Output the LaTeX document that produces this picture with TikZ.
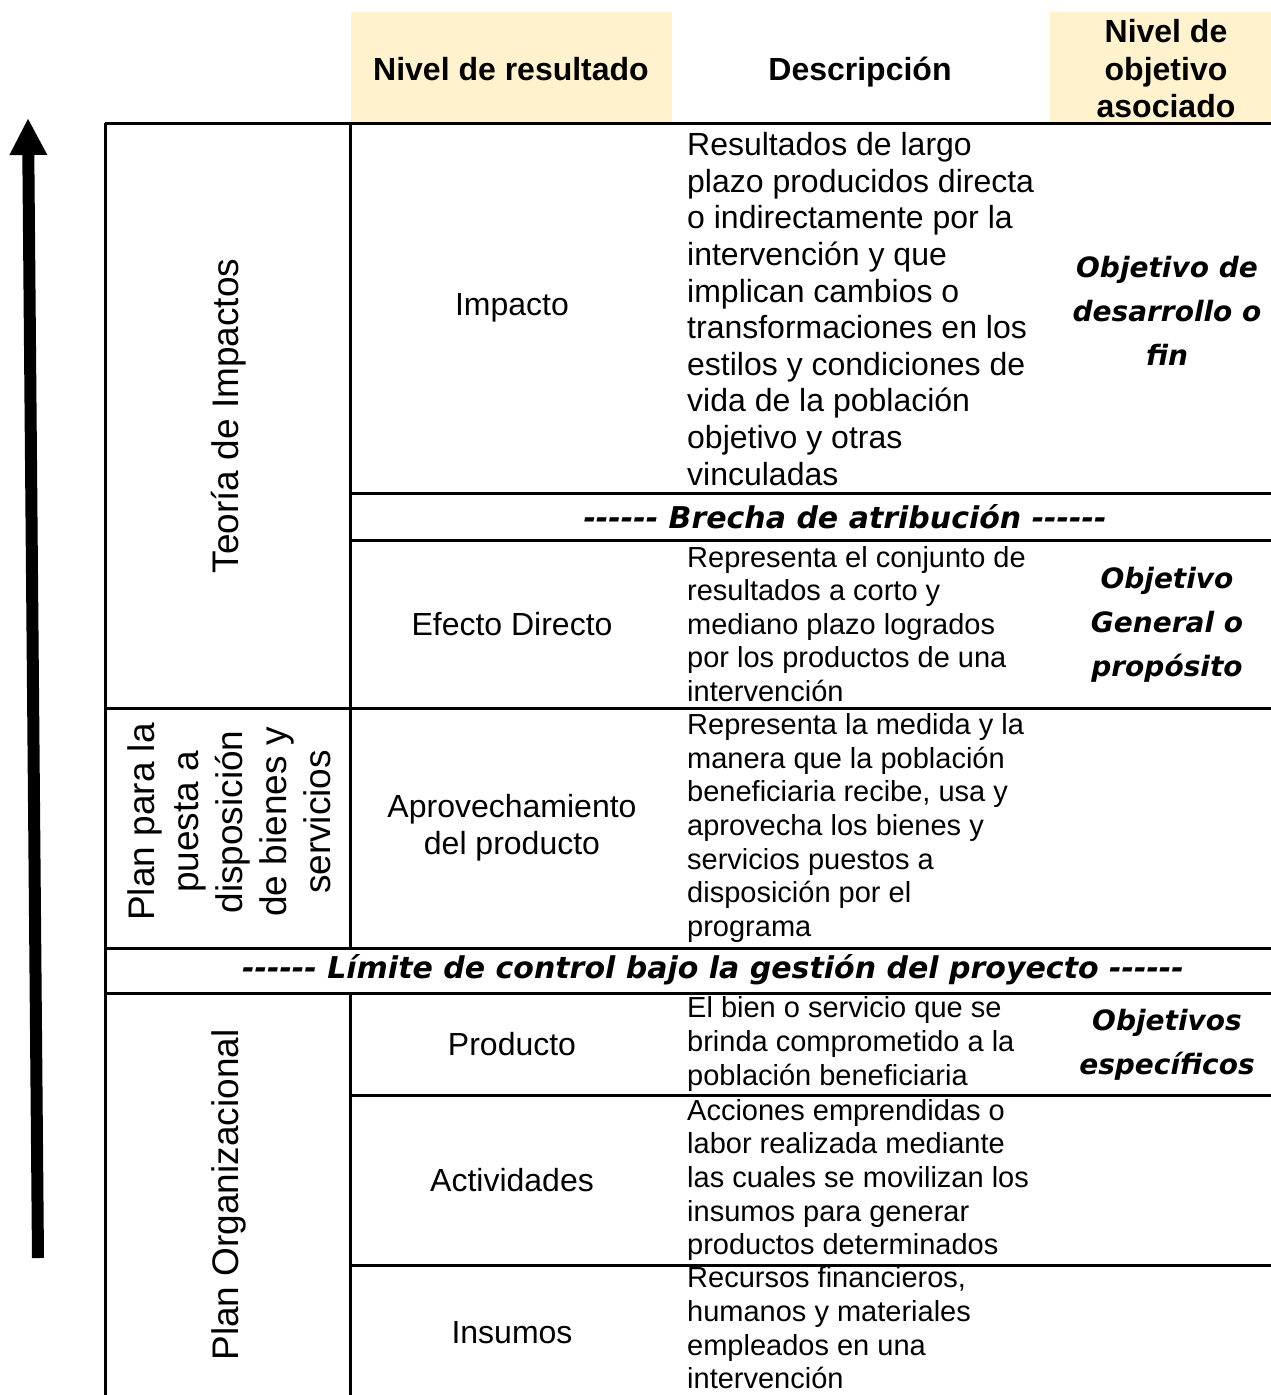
\documentclass[tikz,border=0pt]{standalone}
\usepackage{fontspec}
\setmainfont{Liberation Sans}
\newfontfamily\handfont{DejaVu Sans}
\usetikzlibrary{arrows.meta}
\definecolor{headfill}{HTML}{FFF2CC}
\begin{document}
\begin{tikzpicture}[x=1pt,y=-1pt,
  rule/.style={line width=3pt},
  desc/.style={anchor=west, align=left, inner sep=0pt, font=\fontsize{29}{33.6}\selectfont},
  descbig/.style={desc, font=\fontsize{32}{36.6}\selectfont},
  level/.style={align=center, inner sep=0pt, font=\fontsize{32}{37}\selectfont},
  head/.style={align=center, inner sep=0pt, font=\fontsize{32}{37.5}\selectfont\bfseries},
  objective/.style={align=center, inner sep=0pt, font=\fontsize{28}{44}\selectfont\handfont\bfseries\itshape},
  gap/.style={inner sep=0pt, font=\fontsize{30}{34}\selectfont\handfont\bfseries\itshape},
  group/.style={rotate=90, align=center, inner sep=0pt, font=\fontsize{37}{44}\selectfont},
]
\useasboundingbox (0,0) rectangle (1271,1395);

% header cells
\fill[headfill] (351,12) rectangle (672,123);
\fill[headfill] (1050,12) rectangle (1275,123);
\node[head, anchor=base] (hlevel) at (511,80) {Nivel de resultado};
\node[head, anchor=base] (hdesc) at (860,80) {Descripción};
\node[head] (hobj) at (1166,69) {Nivel de\\objetivo\\asociado};

% table grid
\draw[rule] (105,123) -- (1275,123);
\draw[rule] (105,123) -- (105,1400);
\draw[rule] (350,123) -- (350,948);
\draw[rule] (350,993) -- (350,1400);
\draw[rule] (350,493) -- (1275,493);
\draw[rule] (350,540) -- (1275,540);
\draw[rule] (105,708) -- (1275,708);
\draw[rule] (105,948) -- (1275,948);
\draw[rule] (105,993) -- (1275,993);
\draw[rule] (350,1095) -- (1275,1095);
\draw[rule] (350,1265) -- (1275,1265);

% upward arrow
\coordinate (arrowfoot) at (38,1258);
\coordinate (arrowtip) at (28,118);
\draw[line width=12pt, -{Triangle[width=35pt,length=37pt]}] (arrowfoot) -- (arrowtip);

% group labels
\node[group] (gimpact) at (229,416) {Teoría de Impactos};
\node[group] (gplan) at (229,822) {Plan para la\\puesta a\\disposición\\de bienes y\\servicios};
\node[group] (gorg) at (229,1195) {Plan Organizacional};

% result levels
\node[level] (impacto) at (512,308) {Impacto};
\node[level] (efecto) at (512,624) {Efecto Directo};
\node[level] (aprov) at (512,828) {Aprovechamiento\\del producto};
\node[level] (producto) at (512,1044) {Producto};
\node[level] (activ) at (512,1180) {Actividades};
\node[level] (insumos) at (512,1333) {Insumos};

% descriptions
\node[descbig] (dimpacto) at (687,309) {Resultados de largo\\plazo producidos directa\\o indirectamente por la\\intervención y que\\implican cambios o\\transformaciones en los\\estilos y condiciones de\\vida de la población\\objetivo y otras\\vinculadas};
\node[desc] (defecto) at (687,624) {Representa el conjunto de\\resultados a corto y\\mediano plazo logrados\\por los productos de una\\intervención};
\node[desc] (daprov) at (687,828) {Representa la medida y la\\manera que la población\\beneficiaria recibe, usa y\\aprovecha los bienes y\\servicios puestos a\\disposición por el\\programa};
\node[desc] (dproducto) at (687,1044) {El bien o servicio que se\\brinda comprometido a la\\población beneficiaria};
\node[desc] (dactiv) at (687,1180) {Acciones emprendidas o\\labor realizada mediante\\las cuales se movilizan los\\insumos para generar\\productos determinados};
\node[desc] (dinsumos) at (687,1328) {Recursos financieros,\\humanos y materiales\\empleados en una\\intervención};

% associated objectives
\node[objective] (ofin) at (1167,311) {Objetivo de\\desarrollo o\\fin};
\node[objective] (ogeneral) at (1167,625) {Objetivo\\General o\\propósito};
\node[objective] (oespec) at (1167,1045) {Objetivos\\específicos};

% boundary rows
\node[gap] (brecha) at (845,517) {------ Brecha de atribución ------};
\node[gap] (limite) at (713,970) {------ Límite de control bajo la gestión del proyecto ------};
\end{tikzpicture}
\end{document}
